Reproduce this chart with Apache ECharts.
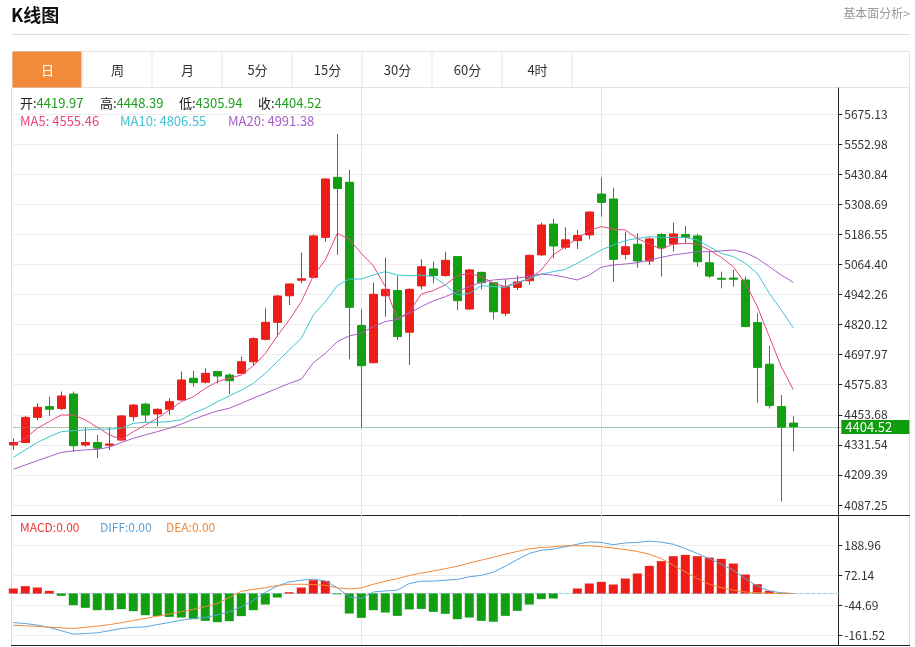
<!DOCTYPE html>
<html>
<head>
<meta charset="utf-8">
<title>K线图</title>
<script src="https://cdn.jsdelivr.net/npm/echarts@6/dist/echarts.min.js"></script>
<style>
html, body { margin: 0; padding: 0; background: #fff; }
#main { width: 915px; height: 647px; }
</style>
</head>
<body>
<div id="main"></div>
<script type="text/javascript">
// [open, close, low, high]
var ohlc = [
    [4331, 4341, 4311, 4358], [4341, 4443, 4338, 4449], [4443, 4484, 4432, 4500], [4487, 4476, 4449, 4527],
    [4479, 4530, 4473, 4548], [4538, 4328, 4304, 4548], [4331, 4341, 4324, 4403], [4341, 4318, 4277, 4372],
    [4330, 4335, 4311, 4403], [4351, 4449, 4347, 4453], [4446, 4493, 4428, 4497], [4497, 4453, 4422, 4503],
    [4457, 4476, 4408, 4480], [4476, 4507, 4453, 4521], [4514, 4595, 4511, 4629], [4602, 4584, 4568, 4633],
    [4586, 4622, 4581, 4642], [4629, 4611, 4581, 4633], [4615, 4592, 4538, 4622], [4622, 4669, 4619, 4690],
    [4669, 4763, 4653, 4768], [4760, 4829, 4755, 4886], [4829, 4936, 4771, 4940], [4937, 4985, 4899, 4988],
    [5000, 5006, 4988, 5112], [5012, 5180, 5008, 5186], [5174, 5411, 5157, 5414], [5418, 5373, 5103, 5594],
    [5398, 4890, 4679, 5448], [4816, 4653, 4399, 4882], [4665, 4943, 4663, 4990], [4937, 4963, 4852, 5092],
    [4958, 4771, 4757, 5017], [4789, 4963, 4656, 4967], [4977, 5055, 4963, 5085], [5046, 5019, 4988, 5076],
    [5019, 5081, 5015, 5116], [5096, 4917, 4879, 5099], [4883, 5042, 4879, 5046], [5032, 4990, 4963, 5035],
    [4990, 4872, 4841, 4993], [4866, 4974, 4855, 5004], [4971, 4993, 4960, 5019], [4998, 5101, 4981, 5105],
    [5103, 5224, 5099, 5234], [5228, 5139, 5089, 5249], [5134, 5164, 5126, 5215], [5161, 5182, 5127, 5204],
    [5184, 5277, 5166, 5279], [5350, 5316, 5258, 5418], [5330, 5085, 4994, 5376], [5105, 5136, 5085, 5197],
    [5146, 5078, 5051, 5191], [5078, 5168, 5062, 5174], [5186, 5132, 5015, 5191], [5147, 5188, 5116, 5234],
    [5186, 5174, 5150, 5220], [5180, 5075, 5055, 5188], [5071, 5017, 5010, 5120], [5008, 5004, 4967, 5035],
    [5009, 5004, 4974, 5042], [5001, 4812, 4809, 5015], [4828, 4646, 4503, 4866], [4659, 4491, 4479, 4734],
    [4487, 4403, 4101, 4534], [4419.97, 4404.52, 4305.94, 4448.39]
];
var ma5 = [
    4331, 4358, 4399, 4426, 4453, 4453, 4433, 4403, 4372, 4354, 4385, 4412, 4439, 4473, 4507, 4527,
    4561, 4588, 4602, 4615, 4652, 4703, 4774, 4839, 4913, 5017, 5082, 5191, 5166, 5109, 5059, 4974,
    4841, 4872, 4944, 4958, 4981, 5019, 5028, 5015, 4988, 4974, 4992, 5004, 5042, 5103, 5136, 5170,
    5201, 5218, 5207, 5204, 5170, 5147, 5126, 5147, 5150, 5147, 5123, 5093, 5055, 4988, 4893, 4771,
    4649, 4555.46
];
var ma10 = [
    4281, 4311, 4341, 4365, 4385, 4389, 4392, 4395, 4395, 4399, 4419, 4423, 4423, 4426, 4433, 4460,
    4480, 4507, 4530, 4554, 4581, 4622, 4669, 4717, 4764, 4859, 4913, 4978, 5005, 5005, 5021, 5035,
    5021, 5019, 5021, 5015, 4981, 4940, 4947, 4978, 4974, 4971, 4988, 5008, 5025, 5035, 5044, 5069,
    5096, 5123, 5143, 5161, 5170, 5177, 5174, 5174, 5174, 5163, 5136, 5109, 5096, 5069, 5028, 4947,
    4879, 4806.55
];
var ma20 = [
    4232, 4250, 4267, 4284, 4301, 4307, 4311, 4313, 4322, 4341, 4358, 4372, 4385, 4399, 4416, 4435,
    4453, 4469, 4480, 4500, 4521, 4541, 4561, 4581, 4598, 4665, 4703, 4751, 4774, 4785, 4812, 4832,
    4841, 4866, 4893, 4916, 4933, 4954, 4974, 4992, 5001, 5005, 5008, 5017, 5025, 5021, 5012, 5001,
    5021, 5053, 5062, 5066, 5071, 5082, 5093, 5103, 5109, 5116, 5116, 5119, 5123, 5112, 5089, 5055,
    5021, 4991.38
];
var macd = [
    19.5, 28.6, 23.4, 10.4, -9, -45.4, -55.8, -65, -65, -61, -68.8, -84.4, -88, -91, -93.5, -100,
    -106.4, -111.6, -107.7, -88, -65, -42.8, -15.6, 5, 23.4, 52, 49.3, -3, -78, -94.8, -65, -74,
    -87, -62, -60, -71.4, -79, -100, -93.5, -106.4, -110, -87, -67.5, -42.8, -22, -19.5, 0, 19.5,
    39, 45.4, 35, 58.4, 78, 107.7, 126, 145.4, 150.6, 145.4, 140, 135, 116.8, 74, 36.3, 10.4,
    2.6, 0
];
var diff = [
    -113, -117, -123, -132, -145, -158, -156, -153, -145, -136, -132, -130, -121, -113, -104, -97,
    -93, -84, -71, -52, -26, 4, 29, 45, 52, 56, 49, 23, -13, -19, 6, 10,
    13, 39, 48, 48, 52, 55, 65, 71, 83, 106, 132, 156, 169, 173, 182, 192,
    201, 199, 190, 197, 199, 204, 200, 192, 175, 156, 136, 114, 91, 58, 29, 10,
    3, 0
];
var dea = [
    -123, -126, -128, -131, -134, -136, -132, -127, -121, -114, -105, -97, -88, -80, -71, -62,
    -51, -39, -16, 9, 16, 23, 31, 36, 36, 35, 32, 22, 18, 22, 36, 48,
    58, 70, 80, 88, 97, 106, 119, 130, 141, 153, 164, 174, 179, 182, 186, 186,
    186, 182, 177, 171, 164, 153, 136, 110, 84, 58, 36, 23, 13, 6, 3, 1,
    0, 0
];
var priceTicks = [4087.25, 4209.39, 4331.54, 4453.68, 4575.83, 4697.97, 4820.12,
    4942.26, 5064.40, 5186.55, 5308.69, 5430.84, 5552.98, 5675.13];
var macdTicks = [-161.52, -44.69, 72.14, 188.96];
var tabs = ['日', '周', '月', '5分', '15分', '30分', '60分', '4时'];

// one slot per day, plus a few empty slots on the right
var categories = [];
for (var i = 0; i < ohlc.length + 4; i++) categories.push(String(i + 1));

var RED = '#ee1d17', GREEN = '#12a012';
var FONT = '"Noto Sans CJK SC", "Microsoft YaHei", sans-serif';
var last = ohlc[ohlc.length - 1];

function txt(x, y, rich, text, extra) {
    var el = {
        type: 'text', x: x, y: y, silent: true,
        style: { text: text, rich: rich, fontFamily: FONT, fontSize: 13, verticalAlign: 'middle' }
    };
    if (extra) for (var k in extra) el.style[k] = extra[k];
    return el;
}
function hline(x1, x2, y, color) {
    return { type: 'line', silent: true, shape: { x1: x1, y1: y, x2: x2, y2: y }, style: { stroke: color, lineWidth: 1 } };
}
function vline(x, y1, y2, color) {
    return { type: 'line', silent: true, shape: { x1: x, y1: y1, x2: x, y2: y2 }, style: { stroke: color, lineWidth: 1 } };
}

var graphic = [];
graphic.push(txt(11, 15, null, 'K线图', { fontSize: 18, fontWeight: 'bold', fill: '#111' }));
graphic.push(txt(910, 13, null, '基本面分析>', { fontSize: 12, fill: '#999', align: 'right' }));
graphic.push(hline(12, 910, 34.5, '#dcdcdc'));

// tab bar
graphic.push({ type: 'rect', silent: true, shape: { x: 12.5, y: 51.5, width: 897, height: 36 }, style: { fill: '#fff', stroke: '#e3e3e3' } });
tabs.forEach(function (t, k) {
    var x0 = 12.5 + k * 70;
    if (k === 0) {
        graphic.push({ type: 'rect', silent: true, shape: { x: x0, y: 51.5, width: 69, height: 36 }, style: { fill: '#f28a3c' } });
    }
    graphic.push(vline(x0 + 69.5, 51.5, 87.5, '#e3e3e3'));
    graphic.push(txt(x0 + 35, 70, null, t, { align: 'center', fill: k === 0 ? '#fff' : '#333' }));
});

// frame
graphic.push(vline(11.5, 87.5, 645.5, '#dcdcdc'));
graphic.push(vline(909.5, 87.5, 645.5, '#dcdcdc'));
graphic.push(hline(11, 910, 515.5, '#222'));
graphic.push(hline(11, 910, 645.5, '#222'));

// legends
var lk = { k: { fill: '#222', fontSize: 13, fontFamily: FONT }, v: { fill: '#1e9e1e', fontSize: 13, fontFamily: FONT } };
graphic.push(txt(20, 103, lk, '{k|开:}{v|' + last[0].toFixed(2) + '}'));
graphic.push(txt(100, 103, lk, '{k|高:}{v|' + last[3].toFixed(2) + '}'));
graphic.push(txt(179, 103, lk, '{k|低:}{v|' + last[2].toFixed(2) + '}'));
graphic.push(txt(258, 103, lk, '{k|收:}{v|' + last[1].toFixed(2) + '}'));
graphic.push(txt(20, 121, null, 'MA5: ' + ma5[ma5.length - 1].toFixed(2), { fill: '#e8467c' }));
graphic.push(txt(120, 121, null, 'MA10: ' + ma10[ma10.length - 1].toFixed(2), { fill: '#3fc4d2' }));
graphic.push(txt(228, 121, null, 'MA20: ' + ma20[ma20.length - 1].toFixed(2), { fill: '#a85ec6' }));
graphic.push(txt(20, 527, null, 'MACD:0.00', { fill: '#e8383b', fontSize: 12 }));
graphic.push(txt(100, 527, null, 'DIFF:0.00', { fill: '#5ba3de', fontSize: 12 }));
graphic.push(txt(166, 527, null, 'DEA:0.00', { fill: '#ef8a3c', fontSize: 12 }));

var vSplit = {
    show: true,
    interval: function (idx) { return idx === 29 || idx === 49; },
    lineStyle: { color: '#e2e6eb' }
};

var option = {
    animation: false,
    textStyle: { fontFamily: FONT },
    grid: [
        { left: 13.3, top: 88, width: 828, height: 427 },
        { left: 13.3, top: 515, width: 828, height: 130 }
    ],
    xAxis: [
        {
            type: 'category', gridIndex: 0, data: categories, boundaryGap: false,
            axisLine: { show: false }, axisTick: { show: false }, axisLabel: { show: false },
            splitLine: vSplit
        },
        {
            type: 'category', gridIndex: 1, data: categories, boundaryGap: false,
            axisLine: { show: true, onZero: true, lineStyle: { color: '#9ccbee', type: 'dashed' } },
            axisTick: { show: false }, axisLabel: { show: false },
            splitLine: vSplit
        }
    ],
    yAxis: [
        {
            type: 'value', gridIndex: 0, position: 'right', offset: -3,
            min: 4046.64, max: 5780.72,
            axisLine: { show: true, lineStyle: { color: '#222' } },
            axisTick: { show: true, length: 4, customValues: priceTicks, lineStyle: { color: '#222' } },
            axisLabel: {
                customValues: priceTicks, color: '#333', fontSize: 12, margin: 6,
                formatter: function (v) { return v.toFixed(2); }
            },
            splitLine: { show: true, lineStyle: { color: '#ececec' } }
        },
        {
            type: 'value', gridIndex: 1, position: 'right', offset: -3,
            min: -200.5, max: 305.8,
            axisLine: { show: true, lineStyle: { color: '#222' } },
            axisTick: { show: true, length: 4, customValues: macdTicks, lineStyle: { color: '#222' } },
            axisLabel: {
                customValues: macdTicks, color: '#333', fontSize: 12, margin: 6,
                formatter: function (v) { return v.toFixed(2); }
            },
            splitLine: { show: true, lineStyle: { color: '#ececec' } }
        }
    ],
    series: [
        {
            name: 'K', type: 'candlestick', xAxisIndex: 0, yAxisIndex: 0,
            data: ohlc, barWidth: 9,
            itemStyle: { color: RED, color0: GREEN, borderColor: RED, borderColor0: GREEN, borderWidth: 1 },
            markLine: {
                silent: true, symbol: ['none', 'none'], animation: false,
                lineStyle: { color: '#3aa53a', type: 'dotted', width: 1 },
                label: {
                    show: true, position: 'end', distance: 0,
                    formatter: function (p) { return p.value.toFixed(2); },
                    color: '#fff', fontSize: 13, backgroundColor: '#0f9d0f',
                    padding: [1, 4, 0, 4], width: 60, align: 'left'
                },
                data: [{ yAxis: last[1] }]
            }
        },
        { name: 'MA5', type: 'line', data: ma5, symbol: 'none', lineStyle: { width: 1, color: '#e8467c' } },
        { name: 'MA10', type: 'line', data: ma10, symbol: 'none', lineStyle: { width: 1, color: '#3fc4d2' } },
        { name: 'MA20', type: 'line', data: ma20, symbol: 'none', lineStyle: { width: 1, color: '#a85ec6' } },
        {
            name: 'MACD', type: 'bar', xAxisIndex: 1, yAxisIndex: 1, data: macd, barWidth: 9,
            itemStyle: { color: function (p) { return p.value >= 0 ? RED : GREEN; } }
        },
        { name: 'DIFF', type: 'line', xAxisIndex: 1, yAxisIndex: 1, data: diff, symbol: 'none', lineStyle: { width: 1, color: '#5ba3de' } },
        { name: 'DEA', type: 'line', xAxisIndex: 1, yAxisIndex: 1, data: dea, symbol: 'none', lineStyle: { width: 1, color: '#ef8a3c' } }
    ],
    graphic: graphic
};

var myChart = echarts.init(document.getElementById('main'));
myChart.setOption(option);
</script>
</body>
</html>
